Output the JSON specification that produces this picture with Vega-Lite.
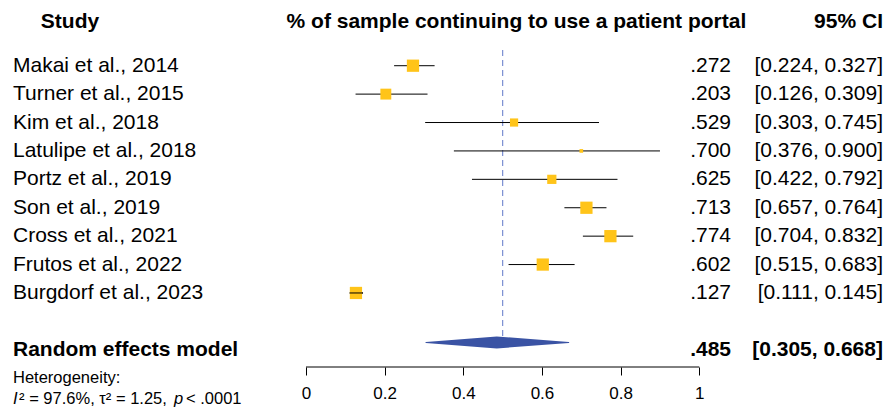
{
  "$schema": "https://vega.github.io/schema/vega-lite/v6.json",
  "width": 891,
  "height": 367,
  "padding": 0,
  "autosize": {"type": "pad"},
  "config": {"view": {"stroke": null}, "font": "Liberation Sans", "text": {"font": "Liberation Sans", "color": "black"}},
  "datasets": {
    "studies": [
      {"study": "Makai et al., 2014", "row": 1, "est": 0.272, "lower": 0.224, "upper": 0.327, "weight": 14.5},
      {"study": "Turner et al., 2015", "row": 2, "est": 0.203, "lower": 0.126, "upper": 0.309, "weight": 11.5},
      {"study": "Kim et al., 2018", "row": 3, "est": 0.529, "lower": 0.303, "upper": 0.745, "weight": 6.5},
      {"study": "Latulipe et al., 2018", "row": 4, "est": 0.700, "lower": 0.376, "upper": 0.900, "weight": 1.3},
      {"study": "Portz et al., 2019", "row": 5, "est": 0.625, "lower": 0.422, "upper": 0.792, "weight": 8.2},
      {"study": "Son et al., 2019", "row": 6, "est": 0.713, "lower": 0.657, "upper": 0.764, "weight": 14.5},
      {"study": "Cross et al., 2021", "row": 7, "est": 0.774, "lower": 0.704, "upper": 0.832, "weight": 14.5},
      {"study": "Frutos et al., 2022", "row": 8, "est": 0.602, "lower": 0.515, "upper": 0.683, "weight": 14.5},
      {"study": "Burgdorf et al., 2023", "row": 9, "est": 0.127, "lower": 0.111, "upper": 0.145, "weight": 14.5}
    ],
    "re": [
      {"study": "Random effects model", "row": 11, "est": 0.485, "lower": 0.305, "upper": 0.668}
    ]
  },
  "resolve": {"scale": {"size": "independent"}},
  "layer": [
    {
      "data": {"values": [{}]},
      "mark": {"type": "rule", "color": "#7B8FD1", "strokeDash": [6, 4], "strokeWidth": 1.2},
      "encoding": {
        "x": {"datum": 0.5, "type": "quantitative", "scale": {"domain": [-0.778, 1.4874], "nice": false, "zero": false},
              "axis": {"values": [0, 0.2, 0.4, 0.6, 0.8, 1], "title": null, "domain": false, "grid": false, "tickSize": 8, "tickColor": "black", "labelColor": "black", "labelFontSize": 17, "labelFont": "Liberation Sans", "labelPadding": 10, "labelFlush": false, "labelOverlap": false, "format": "~g"}},
        "y": {"datum": 0.447, "type": "quantitative", "scale": {"domain": [-1.313, 11.606], "reverse": true, "nice": false, "zero": false}, "axis": null},
        "y2": {"datum": 10.65}
      }
    },
    {
      "data": {"values": [{}]},
      "mark": {"type": "rule", "color": "black", "strokeWidth": 1},
      "encoding": {
        "x": {"datum": 0, "type": "quantitative"},
        "x2": {"datum": 1},
        "y": {"datum": 11.606, "type": "quantitative"}
      }
    },
    {
      "data": {"name": "studies"},
      "mark": {"type": "rule", "color": "black", "strokeWidth": 1},
      "encoding": {
        "x": {"field": "lower", "type": "quantitative"},
        "x2": {"field": "upper"},
        "y": {"field": "row", "type": "quantitative"}
      }
    },
    {
      "data": {"name": "studies"},
      "mark": {"type": "square", "filled": true, "color": "#FFC419", "opacity": 1},
      "encoding": {
        "x": {"field": "est", "type": "quantitative"},
        "y": {"field": "row", "type": "quantitative"},
        "size": {"field": "weight", "type": "quantitative", "scale": {"domain": [0, 14.5], "range": [0, 150]}, "legend": null}
      }
    },
    {
      "data": {"name": "studies"},
      "transform": [{"filter": "datum.upper - datum.lower < 0.04"}],
      "mark": {"type": "rule", "color": "black", "strokeWidth": 1},
      "encoding": {
        "x": {"field": "lower", "type": "quantitative"},
        "x2": {"field": "upper"},
        "y": {"field": "row", "type": "quantitative"}
      }
    },
    {
      "data": {"name": "re"},
      "transform": [{"fold": ["lower", "est", "upper"], "as": ["key", "value"]}],
      "mark": {"type": "trail", "color": "#3A53A4"},
      "encoding": {
        "x": {"field": "value", "type": "quantitative"},
        "y": {"datum": 10.74, "type": "quantitative"},
        "size": {"field": "key", "type": "nominal", "scale": {"type": "ordinal", "domain": ["lower", "est", "upper"], "range": [0, 12, 0]}, "legend": null},
        "order": {"field": "value", "type": "quantitative"}
      }
    },
    {
      "data": {"name": "studies"},
      "mark": {"type": "text", "align": "left", "baseline": "middle", "fontSize": 21},
      "encoding": {
        "x": {"datum": -0.745, "type": "quantitative"},
        "y": {"field": "row", "type": "quantitative"},
        "text": {"field": "study"}
      }
    },
    {
      "data": {"name": "studies"},
      "transform": [
        {"calculate": "substring(format(datum.est, '.3f'), 1)", "as": "estLabel"},
        {"calculate": "'[' + format(datum.lower, '.3f') + ', ' + format(datum.upper, '.3f') + ']'", "as": "ciLabel"}
      ],
      "layer": [
        {
          "mark": {"type": "text", "align": "right", "baseline": "middle", "fontSize": 21},
          "encoding": {
            "x": {"datum": 1.0806, "type": "quantitative"},
            "y": {"field": "row", "type": "quantitative"},
            "text": {"field": "estLabel"}
          }
        },
        {
          "mark": {"type": "text", "align": "right", "baseline": "middle", "fontSize": 21},
          "encoding": {
            "x": {"datum": 1.467, "type": "quantitative"},
            "y": {"field": "row", "type": "quantitative"},
            "text": {"field": "ciLabel"}
          }
        }
      ]
    },
    {
      "data": {"name": "re"},
      "transform": [
        {"calculate": "substring(format(datum.est, '.3f'), 1)", "as": "estLabel"},
        {"calculate": "'[' + format(datum.lower, '.3f') + ', ' + format(datum.upper, '.3f') + ']'", "as": "ciLabel"}
      ],
      "layer": [
        {
          "mark": {"type": "text", "align": "left", "baseline": "middle", "fontSize": 21, "fontWeight": "bold"},
          "encoding": {
            "x": {"datum": -0.745, "type": "quantitative"},
            "y": {"field": "row", "type": "quantitative"},
            "text": {"field": "study"}
          }
        },
        {
          "mark": {"type": "text", "align": "right", "baseline": "middle", "fontSize": 21, "fontWeight": "bold"},
          "encoding": {
            "x": {"datum": 1.0806, "type": "quantitative"},
            "y": {"field": "row", "type": "quantitative"},
            "text": {"field": "estLabel"}
          }
        },
        {
          "mark": {"type": "text", "align": "right", "baseline": "middle", "fontSize": 21, "fontWeight": "bold"},
          "encoding": {
            "x": {"datum": 1.467, "type": "quantitative"},
            "y": {"field": "row", "type": "quantitative"},
            "text": {"field": "ciLabel"}
          }
        }
      ]
    },
    {
      "data": {"values": [{}]},
      "layer": [
        {
          "mark": {"type": "text", "align": "center", "baseline": "middle", "fontSize": 21, "fontWeight": "bold", "text": "Study"},
          "encoding": {"x": {"datum": -0.600, "type": "quantitative"}, "y": {"datum": -0.539, "type": "quantitative"}}
        },
        {
          "mark": {"type": "text", "align": "center", "baseline": "middle", "fontSize": 21, "fontWeight": "bold", "text": "% of sample continuing to use a patient portal"},
          "encoding": {"x": {"datum": 0.535, "type": "quantitative"}, "y": {"datum": -0.539, "type": "quantitative"}}
        },
        {
          "mark": {"type": "text", "align": "right", "baseline": "middle", "fontSize": 21, "fontWeight": "bold", "text": "95% CI"},
          "encoding": {"x": {"datum": 1.467, "type": "quantitative"}, "y": {"datum": -0.539, "type": "quantitative"}}
        },
        {
          "mark": {"type": "text", "align": "left", "baseline": "middle", "fontSize": 16.5, "text": "Heterogeneity:"},
          "encoding": {"x": {"datum": -0.745, "type": "quantitative"}, "y": {"datum": 11.99, "type": "quantitative"}}
        },
        {
          "mark": {"type": "text", "align": "left", "baseline": "middle", "fontSize": 16.5, "fontStyle": "italic", "text": "I"},
          "encoding": {"x": {"datum": -0.745, "type": "quantitative"}, "y": {"datum": 12.72, "type": "quantitative"}}
        },
        {
          "mark": {"type": "text", "align": "left", "baseline": "middle", "fontSize": 16.5, "text": "² = 97.6%, τ² = 1.25,"},
          "encoding": {"x": {"datum": -0.7295, "type": "quantitative"}, "y": {"datum": 12.72, "type": "quantitative"}}
        },
        {
          "mark": {"type": "text", "align": "left", "baseline": "middle", "fontSize": 16.5, "fontStyle": "italic", "text": "p"},
          "encoding": {"x": {"datum": -0.3356, "type": "quantitative"}, "y": {"datum": 12.72, "type": "quantitative"}}
        },
        {
          "mark": {"type": "text", "align": "left", "baseline": "middle", "fontSize": 16.5, "text": "< .0001"},
          "encoding": {"x": {"datum": -0.3051, "type": "quantitative"}, "y": {"datum": 12.72, "type": "quantitative"}}
        }
      ]
    }
  ]
}
